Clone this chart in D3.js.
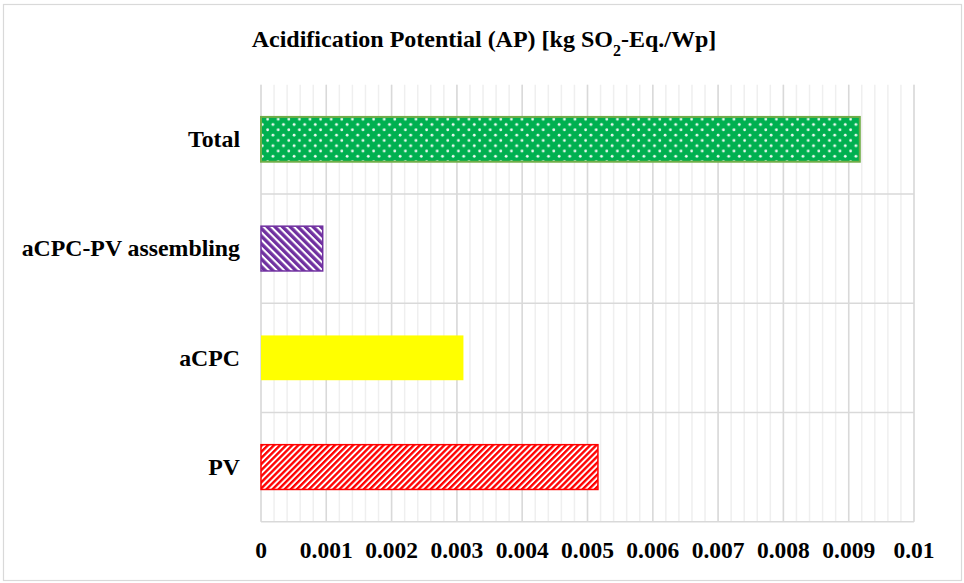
<!DOCTYPE html>
<html>
<head>
<meta charset="utf-8">
<script src="https://cdn.jsdelivr.net/npm/d3@7"></script>
<style>
  body { margin: 0; background: #fff; }
  text { font-family: "Liberation Serif", "Times New Roman", serif; font-weight: bold; fill: #000; }
</style>
</head>
<body>
<div id="chart"></div>
<script>
// chart data
const categories = ["Total", "aCPC-PV assembling", "aCPC", "PV"];
const values = [0.00917, 0.000945, 0.0031, 0.00516];
const xTicks = [0, 0.001, 0.002, 0.003, 0.004, 0.005, 0.006, 0.007, 0.008, 0.009, 0.01];
const xTickLabels = ["0", "0.001", "0.002", "0.003", "0.004", "0.005", "0.006", "0.007", "0.008", "0.009", "0.01"];
const minorStep = 0.0002;

const barFills = ["url(#dots)", "url(#purpleStripes)", "#FFFF00", "url(#redStripes)"];
const barStrokes = ["#70AD47", "#7030A0", "none", "#FF0000"];

const width = 964, height = 583;
const margin = { top: 84.7, right: 50, bottom: 61.3, left: 261 };

const svg = d3.select("#chart")
    .append("svg")
    .attr("width", width)
    .attr("height", height);

// patterns
const defs = svg.append("defs");

const dots = defs.append("pattern")
    .attr("id", "dots")
    .attr("patternUnits", "userSpaceOnUse")
    .attr("width", 10.6).attr("height", 10.6);
dots.append("rect").attr("width", 10.6).attr("height", 10.6).attr("fill", "#00B050");
dots.append("circle").attr("cx", 2.6).attr("cy", 2.6).attr("r", 1.4).attr("fill", "#eefaf2");
dots.append("circle").attr("cx", 7.9).attr("cy", 7.9).attr("r", 1.4).attr("fill", "#eefaf2");

function stripes(id, color, size, angle, frac) {
    const p = defs.append("pattern")
        .attr("id", id)
        .attr("patternUnits", "userSpaceOnUse")
        .attr("width", size).attr("height", size)
        .attr("patternTransform", `rotate(${angle})`);
    p.append("rect").attr("width", size).attr("height", size).attr("fill", "#fff");
    p.append("rect").attr("width", size * frac).attr("height", size).attr("fill", color);
}
stripes("purpleStripes", "#7030A0", 5.4, -45, 0.62);
stripes("redStripes", "#FF0000", 4.3, 45, 0.55);

// outer frame
svg.append("rect")
    .attr("x", 3.5).attr("y", 4.5)
    .attr("width", 958).attr("height", 576)
    .attr("fill", "none")
    .attr("stroke", "#d9d9d9")
    .attr("stroke-width", 1.2);

const x = d3.scaleLinear()
    .domain([0, 0.01])
    .range([margin.left, width - margin.right]);

const y = d3.scaleBand()
    .domain(categories)
    .range([margin.top, height - margin.bottom])
    .padding(0);

// minor vertical gridlines
const minorTicks = d3.range(0, 0.01 + 1e-9, minorStep);
svg.append("g").selectAll("line")
    .data(minorTicks)
    .enter().append("line")
    .attr("x1", d => x(d)).attr("x2", d => x(d))
    .attr("y1", margin.top).attr("y2", height - margin.bottom)
    .attr("stroke", "#efefef")
    .attr("stroke-width", 1.5);

// major vertical gridlines
svg.append("g").selectAll("line")
    .data(xTicks)
    .enter().append("line")
    .attr("x1", d => x(d)).attr("x2", d => x(d))
    .attr("y1", margin.top).attr("y2", height - margin.bottom)
    .attr("stroke", "#d9d9d9")
    .attr("stroke-width", 1.5);

// horizontal lines between categories
const bounds = categories.slice(1).map(c => y(c)).concat([height - margin.bottom]);
svg.append("g").selectAll("line")
    .data(bounds)
    .enter().append("line")
    .attr("x1", margin.left).attr("x2", width - margin.right)
    .attr("y1", d => d).attr("y2", d => d)
    .attr("stroke", "#d9d9d9")
    .attr("stroke-width", 1.5);

// bars
const barH = y.bandwidth() * 0.41;
svg.append("g").selectAll("rect")
    .data(values)
    .enter().append("rect")
    .attr("x", x(0))
    .attr("y", (d, i) => y(categories[i]) + y.bandwidth() / 2 - barH / 2)
    .attr("width", d => x(d) - x(0))
    .attr("height", barH)
    .attr("fill", (d, i) => barFills[i])
    .attr("stroke", (d, i) => barStrokes[i])
    .attr("stroke-width", (d, i) => i === 0 ? 2 : 1.5);

// category labels
svg.append("g").selectAll("text")
    .data(categories)
    .enter().append("text")
    .attr("x", 240)
    .attr("y", d => y(d) + y.bandwidth() / 2)
    .attr("dy", "0.33em")
    .attr("text-anchor", "end")
    .style("font-size", "23.8px")
    .text(d => d);

// x tick labels
svg.append("g").selectAll("text")
    .data(xTicks)
    .enter().append("text")
    .attr("x", d => x(d))
    .attr("y", 558)
    .attr("text-anchor", "middle")
    .style("font-size", "23.5px")
    .text((d, i) => xTickLabels[i]);

// title
const title = svg.append("text")
    .attr("x", 484)
    .attr("y", 47)
    .attr("text-anchor", "middle")
    .style("font-size", "24px");
title.append("tspan").text("Acidification Potential (AP) [kg SO");
title.append("tspan").attr("baseline-shift", "sub").style("font-size", "16px").text("2");
title.append("tspan").text("-Eq./Wp]");
</script>
</body>
</html>
